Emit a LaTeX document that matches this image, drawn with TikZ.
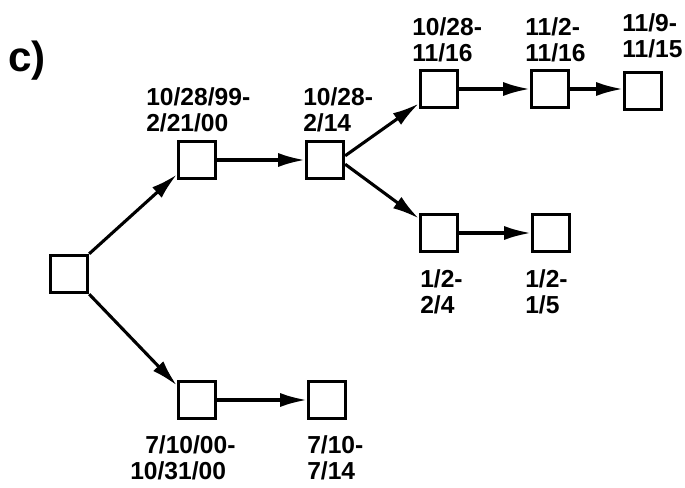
\documentclass[tikz,border=0pt]{standalone}
\usepackage{fontspec}
\setmainfont{Liberation Sans}
\usetikzlibrary{arrows.meta}
\tikzset{
    box/.style={draw, line width=2.2pt, minimum size=0.93cm, inner sep=0},
    lbl/.style={anchor=north west, inner sep=0, align=left, font=\bfseries\fontsize{17.5}{19}\selectfont},
    arr/.style={line width=2.2pt, -{Latex[length=19pt, width=10pt]}}
}
\begin{document}
\begin{tikzpicture}
    \useasboundingbox (0, 0) rectangle (17.125, 12.175);
    \node[anchor=base west, inner sep=0, font=\bfseries\fontsize{30}{30}\selectfont] (tag) at (0.2, 10.375) {c)};
    % the boxes
    \node[box] (root) at (1.725, 5.325) {};
    \node[box] (A) at (4.925, 8.175) {};
    \node[box] (B) at (8.125, 8.175) {};
    \node[box] (C) at (10.975, 9.95) {};
    \node[box] (D) at (13.75, 9.95) {};
    \node[box] (E) at (16.075, 9.9) {};
    \node[box] (F) at (10.975, 6.35) {};
    \node[box] (G) at (13.775, 6.35) {};
    \node[box] (H) at (4.925, 2.175) {};
    \node[box] (I) at (8.175, 2.175) {};
    % the dates
    \node[lbl] (labA) at (3.65, 10.0) {10/28/99-\\2/21/00};
    \node[lbl] (labB) at (7.575, 10.0) {10/28-\\2/14};
    \node[lbl] (labC) at (10.3, 11.75) {10/28-\\11/16};
    \node[lbl] (labD) at (13.125, 11.75) {11/2-\\11/16};
    \node[lbl] (labE) at (15.55, 11.85) {11/9-\\11/15};
    \node[lbl] (labF) at (10.5, 5.45) {1/2-\\2/4};
    \node[lbl] (labG) at (13.125, 5.45) {1/2-\\1/5};
    \node[lbl] (labH) at (3.25, 1.3) {\hspace*{0.375cm}7/10/00-\\10/31/00};
    \node[lbl] (labI) at (7.675, 1.3) {7/10-\\7/14};
    % the arrows
    \draw[arr] (root.north east) -- ([yshift=4pt]A.south west);
    \draw[arr] (root.south east) -- ([yshift=-4pt]H.north west);
    \draw[arr] (A.east) -- (B.west);
    \draw[arr] ([yshift=3pt]B.east) -- ([yshift=4pt]C.south west);
    \draw[arr] ([yshift=-3pt]B.east) -- ([yshift=-4pt]F.north west);
    \draw[arr] (C.east) -- (D.west);
    \draw[arr] (D.east) -- (D.east -| E.west);
    \draw[arr] (F.east) -- (G.west);
    \draw[arr] (H.east) -- (I.west);
\end{tikzpicture}
\end{document}
